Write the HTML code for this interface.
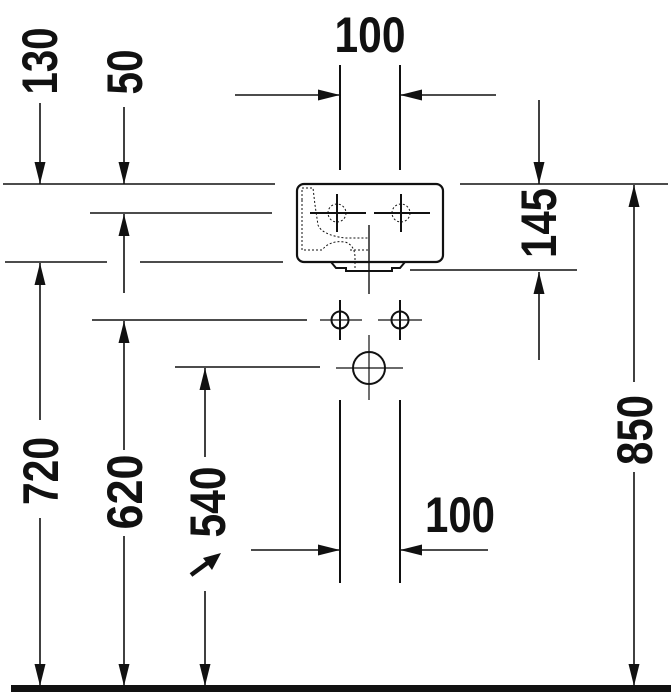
<!DOCTYPE html>
<html><head><meta charset="utf-8"><style>html,body{margin:0;padding:0;background:#fff}svg{display:block}</style></head>
<body>
<svg width="671" height="692" viewBox="0 0 671 692" xmlns="http://www.w3.org/2000/svg">
<defs>
<marker id="a" viewBox="-22 -6 22 12" refX="0" refY="0" markerWidth="22" markerHeight="12" markerUnits="userSpaceOnUse" orient="auto" overflow="visible">
<path d="M0,0 L-22,-5.5 L-22,5.5 Z" fill="#111"/>
</marker>
</defs>
<g stroke="#111" stroke-width="1.6" fill="none">
<line x1="3" y1="184" x2="275" y2="184"/>
<line x1="460" y1="184" x2="668" y2="184"/>
<line x1="90" y1="213" x2="272" y2="213"/>
<line x1="5" y1="262" x2="107" y2="262"/>
<line x1="140" y1="262" x2="283" y2="262"/>
<line x1="410" y1="270" x2="577" y2="270"/>
<line x1="92" y1="320" x2="307" y2="320"/>
<line x1="175" y1="367" x2="320" y2="367"/>
<line x1="340" y1="65" x2="340" y2="170" stroke-width="2"/>
<line x1="400" y1="65" x2="400" y2="170" stroke-width="2"/>
<line x1="340" y1="400" x2="340" y2="583" stroke-width="2"/>
<line x1="400" y1="400" x2="400" y2="583" stroke-width="2"/>
<rect x="297" y="184" width="146" height="78" rx="7" stroke-width="2.2"/>
<path d="M331,262 L336,268 L346,268 L346,271 L392,271 L392,268 L400,268 L405,262" stroke-width="2"/>
<g stroke-width="1" stroke-dasharray="2,2">
<path d="M302,200 L302,250 L322,250 Q330,240 345,242 Q355,245 355,258 M302,200 L302,188 L313,188 L315,205 L318,225 Q322,235 345,238 L369,238"/>
<circle cx="337" cy="213" r="9"/>
<circle cx="401" cy="213" r="9"/>
<path d="M355,258 L355,268 M350,250 L369,250"/>
</g>
<line x1="310" y1="213" x2="366" y2="213" stroke-width="2"/>
<line x1="374" y1="213" x2="430" y2="213" stroke-width="2"/>
<line x1="337" y1="194" x2="337" y2="232" stroke-width="2"/>
<line x1="401" y1="194" x2="401" y2="232" stroke-width="2"/>
<line x1="369" y1="225" x2="369" y2="294" stroke-width="1.4"/>
<circle cx="340" cy="320" r="8.5" stroke-width="2"/>
<circle cx="400" cy="320" r="8.5" stroke-width="2"/>
<line x1="320" y1="320" x2="362" y2="320" stroke-width="1.2"/>
<line x1="378" y1="320" x2="422" y2="320" stroke-width="1.2"/>
<line x1="340" y1="300" x2="340" y2="340" stroke-width="2"/>
<line x1="400" y1="300" x2="400" y2="340" stroke-width="2"/>
<circle cx="369" cy="368" r="16" stroke-width="2"/>
<line x1="336" y1="368" x2="403" y2="368" stroke-width="1.2"/>
<line x1="369" y1="335" x2="369" y2="400" stroke-width="1.2"/>
<g marker-end="url(#a)">
<line x1="235" y1="95" x2="340" y2="95"/>
<line x1="496" y1="95" x2="400" y2="95"/>
<line x1="251" y1="550" x2="340" y2="550"/>
<line x1="488" y1="550" x2="400" y2="550"/>
<line x1="40" y1="103" x2="40" y2="184"/>
<line x1="124" y1="107" x2="124" y2="184"/>
<line x1="539" y1="100" x2="539" y2="184"/>
<line x1="539" y1="360" x2="539" y2="272"/>
<line x1="124" y1="293" x2="124" y2="214"/>
<line x1="40" y1="420" x2="40" y2="263"/>
<line x1="124" y1="450" x2="124" y2="321"/>
<line x1="205" y1="457" x2="205" y2="368"/>
<line x1="634" y1="382" x2="634" y2="185"/>
<line x1="40" y1="518" x2="40" y2="686"/>
<line x1="124" y1="536" x2="124" y2="686"/>
<line x1="205" y1="591" x2="205" y2="686"/>
<line x1="634" y1="472" x2="634" y2="686"/>
</g>
<line x1="191" y1="575" x2="210" y2="561" stroke-width="4.5"/>
</g>
<polygon points="221,553 203,558 212,570" fill="#111"/>
<rect x="11" y="685" width="660" height="7" fill="#111"/>
<g font-family="Liberation Sans, sans-serif" font-weight="bold" font-size="50" fill="#111" text-anchor="middle">
<text x="370" y="52" textLength="71" lengthAdjust="spacingAndGlyphs">100</text>
<text x="460" y="532" textLength="70" lengthAdjust="spacingAndGlyphs">100</text>
<text transform="translate(57,61) rotate(-90)" textLength="67" lengthAdjust="spacingAndGlyphs">130</text>
<text transform="translate(142,72) rotate(-90)" textLength="45" lengthAdjust="spacingAndGlyphs">50</text>
<text transform="translate(556,223) rotate(-90)" textLength="70" lengthAdjust="spacingAndGlyphs">145</text>
<text transform="translate(58,471) rotate(-90)" textLength="68" lengthAdjust="spacingAndGlyphs">720</text>
<text transform="translate(142,492) rotate(-90)" textLength="75" lengthAdjust="spacingAndGlyphs">620</text>
<text transform="translate(225,502) rotate(-90)" textLength="71" lengthAdjust="spacingAndGlyphs">540</text>
<text transform="translate(652,430) rotate(-90)" textLength="70" lengthAdjust="spacingAndGlyphs">850</text>
</g>
</svg>
</body></html>
